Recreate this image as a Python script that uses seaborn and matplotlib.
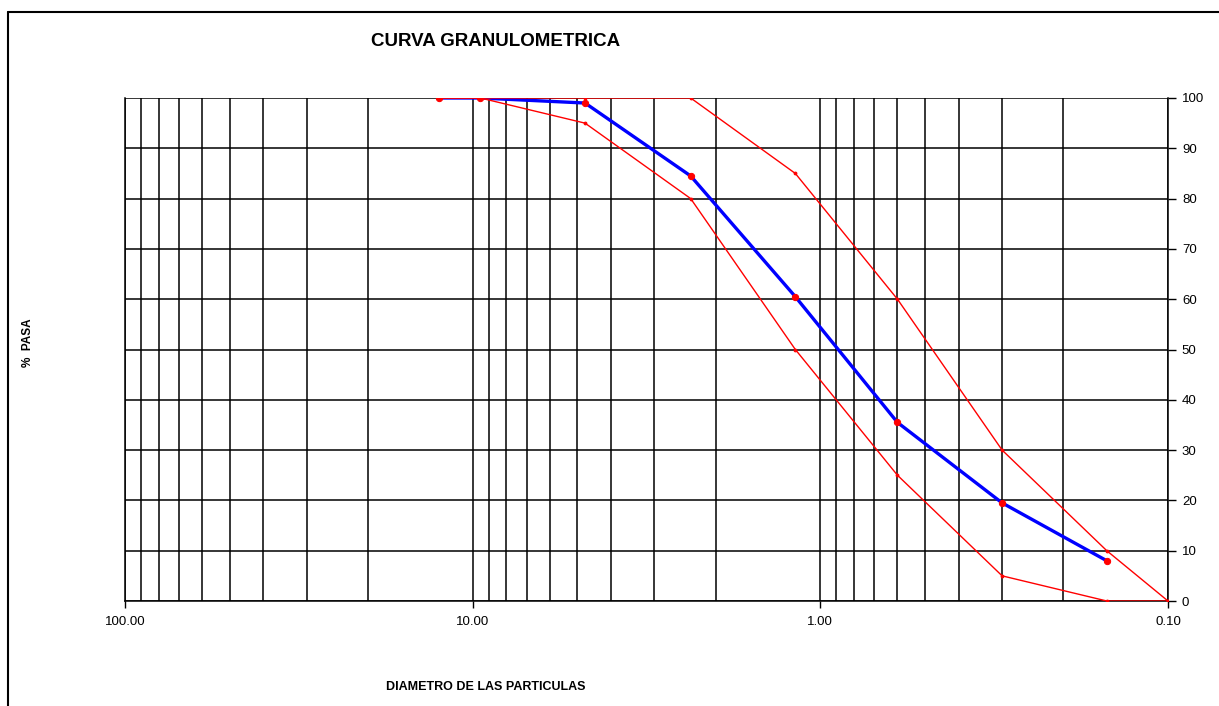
import numpy as np
import matplotlib
matplotlib.use("Agg")
import matplotlib.pyplot as plt
import pandas as pd
import seaborn as sns
from matplotlib.lines import Line2D
from matplotlib.ticker import FixedLocator, LogLocator, NullFormatter

# sieve openings (mm) and % passing
sieve_mm = [12.5, 9.5, 4.75, 2.36, 1.18, 0.6, 0.3, 0.15]
pct_pasa = [100, 100, 99, 84.5, 60.5, 35.5, 19.5, 8]

# specification limits
lim_mm = [12.5, 9.5, 4.75, 2.36, 1.18, 0.6, 0.3, 0.15, 0.1]
lim_sup = [100, 100, 100, 100, 85, 60, 30, 10, 0]
lim_inf = [100, 100, 95, 80, 50, 25, 5, 0, 0]

x_ticks = [100, 10, 1, 0.1]
x_labels = ["100.00", "10.00", "1.00", "0.10"]
y_ticks = [0, 10, 20, 30, 40, 50, 60, 70, 80, 90, 100]


def build_frames():
    curva = pd.DataFrame({"d": sieve_mm, "pasa": pct_pasa})
    sup = pd.DataFrame({"d": lim_mm, "pasa": lim_sup})
    inf = pd.DataFrame({"d": lim_mm, "pasa": lim_inf})
    return curva, sup, inf


def main():
    sns.set_style("white")
    plt.rcParams["font.family"] = ["Liberation Sans", "DejaVu Sans"]
    plt.rcParams["text.color"] = "black"
    plt.rcParams["xtick.color"] = "black"
    plt.rcParams["ytick.color"] = "black"

    curva, sup, inf = build_frames()

    fig = plt.figure(figsize=(12.19, 7.06), dpi=100)
    ax = fig.add_axes([125 / 1219, 105 / 706, 1043 / 1219, 503 / 706])

    sns.lineplot(data=curva, x="d", y="pasa", sort=False, ax=ax,
                 color="#0000ff", linewidth=2.4, marker="o",
                 markersize=4.5, markerfacecolor="red",
                 markeredgecolor="red", zorder=3)
    for df in (sup, inf):
        sns.lineplot(data=df, x="d", y="pasa", sort=False, ax=ax,
                     color="red", linewidth=1.0, marker="o",
                     markersize=2, markeredgecolor="red", zorder=4)

    ax.set_xscale("log")
    ax.set_xlim(100, 0.1)
    ax.set_ylim(0, 100)

    ax.xaxis.set_major_locator(FixedLocator(x_ticks))
    ax.xaxis.set_minor_locator(LogLocator(base=10, subs=np.arange(2, 10)))
    ax.xaxis.set_minor_formatter(NullFormatter())
    ax.set_xticklabels(x_labels)
    ax.set_yticks(y_ticks)

    ax.grid(True, which="both", axis="x", color="black", linewidth=1.1)
    ax.grid(True, which="major", axis="y", color="black", linewidth=1.1)
    ax.set_axisbelow(True)

    ax.yaxis.tick_right()
    ax.tick_params(axis="y", which="both", right=True, left=False,
                   length=6, width=1, labelsize=9.5, pad=4)
    ax.tick_params(axis="x", which="major", bottom=True, length=5,
                   width=1, labelsize=9.5, pad=6)
    ax.tick_params(axis="x", which="minor", bottom=False)

    for s in ax.spines.values():
        s.set_color("black")
        s.set_linewidth(1.1)
    ax.spines["top"].set_visible(False)

    ax.set_xlabel("")
    ax.set_ylabel("")

    fig.text(496 / 1219, 1 - 42 / 706, "CURVA GRANULOMETRICA",
             ha="center", va="center", fontsize=13.5, fontweight="bold")
    fig.text(486 / 1219, 1 - 687 / 706, "DIAMETRO DE LAS PARTICULAS",
             ha="center", va="center", fontsize=9, fontweight="bold")
    fig.text(28 / 1219, 1 - 343 / 706, "%  PASA", rotation=90,
             ha="center", va="center", fontsize=8.5, fontweight="bold")

    # outer frame (left and top only)
    fig.add_artist(Line2D([8 / 1219, 8 / 1219], [0, 1 - 12 / 706],
                          transform=fig.transFigure, color="black",
                          linewidth=1.5))
    fig.add_artist(Line2D([8 / 1219, 1], [1 - 12 / 706, 1 - 12 / 706],
                          transform=fig.transFigure, color="black",
                          linewidth=1.5))

    fig.savefig("out.png", dpi=100)


if __name__ == "__main__":
    main()
